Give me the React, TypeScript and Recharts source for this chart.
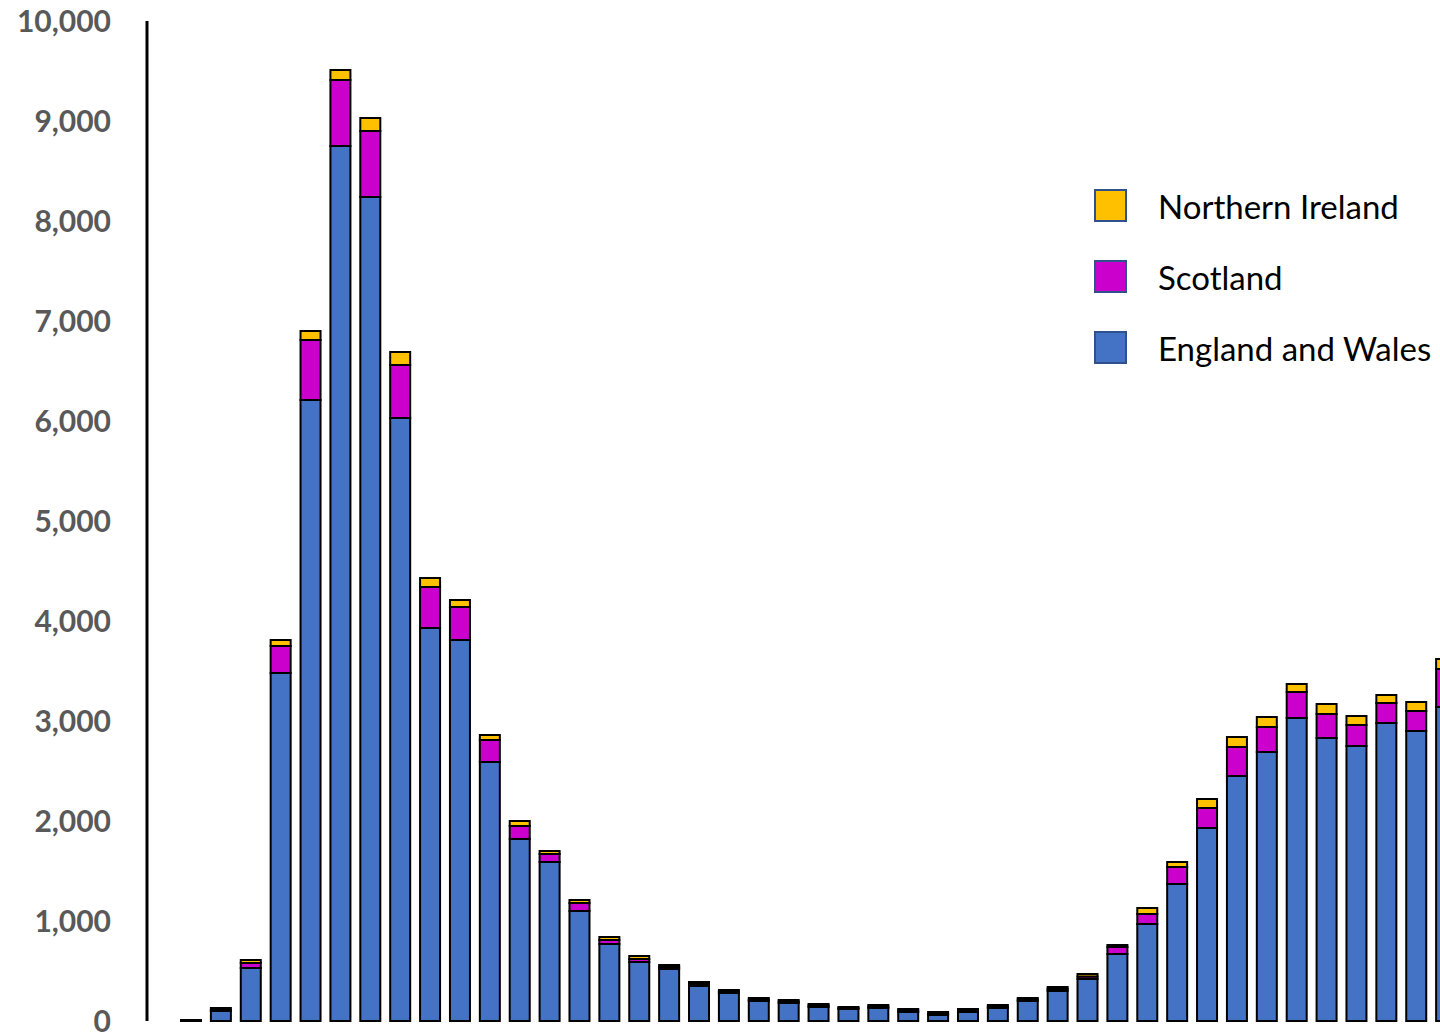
import React from 'react';
import { BarChart, Bar, XAxis, YAxis } from 'recharts';

// Weekly counts, stacked by nation
const weeks = Array.from({ length: 43 }, (_, i) => `W${i + 1}`);

const englandWales = [
  5, 100, 530, 3480, 6210, 8750, 8240, 6030, 3930, 3810, 2590, 1820, 1590, 1100,
  770, 590, 520, 350, 280, 200, 180, 140, 120, 130, 90, 60, 90, 130, 200, 300,
  420, 670, 970, 1370, 1930, 2450, 2690, 3030, 2830, 2750, 2980, 2900, 3140,
];

const scotland = [
  2, 10, 50, 270, 600, 660, 660, 530, 410, 330, 220, 130, 80, 80, 40, 30, 20, 20,
  15, 15, 15, 15, 10, 15, 15, 15, 15, 15, 15, 20, 25, 70, 100, 170, 200, 290, 250,
  260, 240, 210, 200, 200, 380,
];

const northernIreland = [
  3, 20, 30, 60, 90, 100, 130, 130, 90, 70, 50, 50, 30, 30, 30, 30, 20, 20, 15, 15,
  15, 15, 10, 15, 15, 15, 15, 15, 15, 20, 25, 20, 60, 50, 90, 100, 100, 80, 100,
  90, 80, 90, 100,
];

const yTicks = [0, 1000, 2000, 3000, 4000, 5000, 6000, 7000, 8000, 9000, 10000];

const series = [
  { key: 'ew', name: 'England and Wales', color: '#4472C4' },
  { key: 'sc', name: 'Scotland', color: '#CC00CC' },
  { key: 'ni', name: 'Northern Ireland', color: '#FFC000' },
];

const data = weeks.map((w, i) => ({
  week: w,
  ew: englandWales[i],
  sc: scotland[i],
  ni: northernIreland[i],
}));

// Legend drawn as an overlay so it doesn't eat into the plot area
const LegendBox = () => (
  <div
    style={{
      position: 'absolute',
      left: 1094,
      top: 170,
      fontFamily: 'Lato, sans-serif',
      fontSize: 33,
      color: '#000',
    }}
  >
    {[...series].reverse().map((s) => (
      <div key={s.key} style={{ display: 'flex', alignItems: 'center', height: 71 }}>
        <div
          style={{
            width: 29,
            height: 29,
            background: s.color,
            border: '2px solid #2F528F',
            marginRight: 31,
          }}
        />
        <span>{s.name}</span>
      </div>
    ))}
  </div>
);

const App = () => {
  return (
    <div
      style={{
        position: 'absolute',
        left: 0,
        top: 0,
        width: 1440,
        height: 1033,
        overflow: 'hidden',
        background: '#fff',
      }}
    >
      <BarChart
        width={1461}
        height={1033}
        data={data}
        margin={{ top: 21, right: 0, left: 0, bottom: 12 }}
      >
        <XAxis dataKey="week" hide padding={{ left: 29, right: 0 }} />
        <YAxis
          width={147}
          domain={[0, 10000]}
          ticks={yTicks}
          interval={0}
          tickFormatter={(v: number) => v.toLocaleString('en-US')}
          axisLine={{ stroke: '#000', strokeWidth: 3 }}
          tickLine={false}
          tickSize={0}
          tickMargin={36}
          tick={{ fill: '#595959', fontSize: 30, fontWeight: 700, fontFamily: 'Lato, sans-serif' }}
        />
        {series.map((s) => (
          <Bar
            key={s.key}
            dataKey={s.key}
            name={s.name}
            stackId="a"
            fill={s.color}
            stroke="#000"
            strokeWidth={2}
            barSize={20}
            isAnimationActive={false}
          />
        ))}
      </BarChart>
      <LegendBox />
    </div>
  );
};

export default App;
